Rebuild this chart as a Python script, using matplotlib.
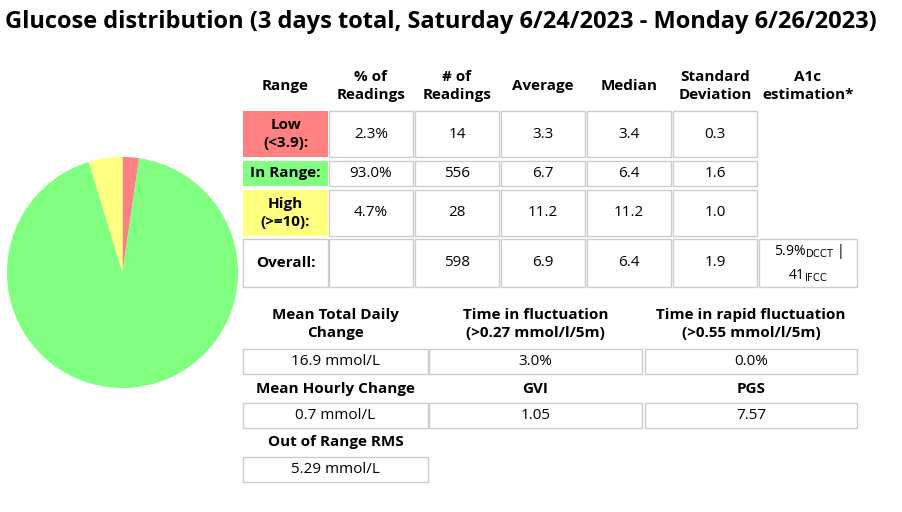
import matplotlib.pyplot as plt
from matplotlib.patches import Rectangle

plt.rcParams['font.family'] = ['Open Sans', 'DejaVu Sans']

# data
pie_labels = ['Low', 'In Range', 'High']
pie_pct = [2.3, 93.0, 4.7]
pie_colors = ['#ff8080', '#80ff80', '#ffff80']

headers = ['Range', '% of\nReadings', '# of\nReadings', 'Average', 'Median', 'Standard\nDeviation', 'A1c\nestimation*']
row_names = ['Low\n(<3.9):', 'In Range:', 'High\n(>=10):', 'Overall:']
row_fill = ['#ff8080', '#80ff80', '#ffff80', None]
pct_col = ['2.3%', '93.0%', '4.7%', '']
num_col = ['14', '556', '28', '598']
avg_col = ['3.3', '6.7', '11.2', '6.9']
med_col = ['3.4', '6.4', '11.2', '6.4']
std_col = ['0.3', '1.6', '1.0', '1.9']
a1c_text = '5.9%$_{\\mathrm{DCCT}}$ |\n41$_{\\mathrm{IFCC}}$'

stat_labels = [['Mean Total Daily\nChange', 'Time in fluctuation\n(>0.27 mmol/l/5m)', 'Time in rapid fluctuation\n(>0.55 mmol/l/5m)'],
               ['Mean Hourly Change', 'GVI', 'PGS'],
               ['Out of Range RMS']]
stat_values = [['16.9 mmol/L', '3.0%', '0.0%'],
               ['0.7 mmol/L', '1.05', '7.57'],
               ['5.29 mmol/L']]

W, H = 902, 512
fig = plt.figure(figsize=(W / 100, H / 100), dpi=100)
ax = fig.add_axes([0, 0, 1, 1])
ax.set_xlim(0, W)
ax.set_ylim(H, 0)
ax.axis('off')

fig.text(5 / W, 1 - 22 / H, 'Glucose distribution (3 days total, Saturday 6/24/2023 - Monday 6/26/2023)',
         fontsize=17, fontweight='bold', va='center', ha='left')

# pie
pax = fig.add_axes([7 / W, 1 - 388 / H, 231 / W, 231 / H])
pax.pie(pie_pct, colors=pie_colors, startangle=90, counterclock=False, radius=1)
pax.set_xlim(-1, 1)
pax.set_ylim(-1, 1)
pax.set_aspect('equal')

edge = '#cccccc'
fs = 11

def cell(x0, x1, y0, y1, txt, fill=None, bold=False, lw=1):
    ax.add_patch(Rectangle((x0, y0), x1 - x0, y1 - y0, facecolor=fill or 'white',
                           edgecolor=edge if fill is None else 'none', lw=lw))
    ax.text((x0 + x1) / 2, (y0 + y1) / 2, txt, ha='center', va='center', fontsize=fs,
            fontweight='bold' if bold else 'normal', linespacing=1.3)

cols = [(243, 328), (329, 413), (415, 499), (501, 585), (587, 671), (673, 757), (759, 857)]
for (x0, x1), h in zip(cols, headers):
    ax.text((x0 + x1) / 2, 86, h, ha='center', va='center', fontsize=fs, fontweight='bold', linespacing=1.3)

rows = [(111, 157), (161, 186), (190, 236), (239, 287)]
for i, (y0, y1) in enumerate(rows):
    x0, x1 = cols[0]
    if row_fill[i]:
        cell(x0, x1, y0, y1, row_names[i], fill=row_fill[i], bold=True)
    else:
        cell(x0, x1, y0, y1, row_names[i], bold=True)
    for j, colvals in enumerate([pct_col, num_col, avg_col, med_col, std_col]):
        cx0, cx1 = cols[j + 1]
        cell(cx0, cx1, y0, y1, colvals[i])
x0, x1 = cols[6]
cell(x0, x1, rows[3][0], rows[3][1], '')
ax.text((x0 + x1) / 2, (rows[3][0] + rows[3][1]) / 2, a1c_text, ha='center', va='center', fontsize=10, linespacing=1.5)

# stats block
scols = [(243, 428), (429, 642), (645, 857)]
label_y = [324, 389, 442]
box_y = [(349, 374), (403, 428), (457, 482)]
for r in range(3):
    for c in range(len(stat_labels[r])):
        x0, x1 = scols[c]
        ax.text((x0 + x1) / 2, label_y[r], stat_labels[r][c], ha='center', va='center',
                fontsize=fs, fontweight='bold', linespacing=1.45)
        cell(x0, x1, box_y[r][0], box_y[r][1], stat_values[r][c])

fig.savefig('out.png', dpi=100)
